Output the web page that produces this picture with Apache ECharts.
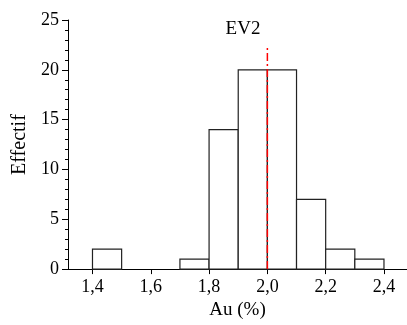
<!DOCTYPE html>
<html><head><meta charset="utf-8">
<script src="https://cdn.jsdelivr.net/npm/echarts@6/dist/echarts.min.js"></script>
<style>html,body{margin:0;padding:0;background:#fff}#c{width:407px;height:325px}</style>
</head><body><div id="c"></div>
<script>
var binStarts = [1.4, 1.5, 1.6, 1.7, 1.8, 1.9, 2.0, 2.1, 2.2, 2.3];
var binWidth = 0.1;
var counts = [2, 0, 0, 1, 14, 20, 20, 7, 2, 1];
var xTicks = [1.4, 1.6, 1.8, 2.0, 2.2, 2.4];
var yTicks = [0, 5, 10, 15, 20, 25];
var refX = 2.0;
var refTop = 22.3;

var font = '"Liberation Serif", "Times New Roman", Times, serif';
var bars = [];
for (var i = 0; i < binStarts.length; i++) {
  if (counts[i] > 0) bars.push([binStarts[i], binStarts[i] + binWidth, counts[i]]);
}
var chart = echarts.init(document.getElementById('c'));
chart.setOption({
  animation: false,
  title: { text: 'EV2', left: 238, textAlign: 'center', top: 15,
    textStyle: { fontFamily: font, fontSize: 19, fontWeight: 'normal', color: '#000' } },
  grid: { left: 68, right: 0, top: 20, bottom: 54 },
  xAxis: {
    type: 'value', min: 1.316, max: 2.479,
    name: 'Au (%)', nameLocation: 'middle', nameGap: 31,
    nameTextStyle: { fontFamily: font, fontSize: 19, color: '#000' },
    axisLine: { onZero: false, lineStyle: { color: '#000', width: 1 } },
    axisTick: { show: true, length: 5, customValues: xTicks, lineStyle: { color: '#000' } },
    axisLabel: { customValues: xTicks, fontFamily: font, fontSize: 18, color: '#000', margin: 9,
      formatter: function (v) { return v.toFixed(1).replace('.', ','); } },
    splitLine: { show: false }
  },
  yAxis: {
    type: 'value', min: 0, max: 25, interval: 5,
    name: 'Effectif', nameLocation: 'middle', nameGap: 38,
    nameTextStyle: { fontFamily: font, fontSize: 20, color: '#000' },
    axisLine: { show: true, lineStyle: { color: '#000', width: 1 } },
    axisTick: { show: true, length: 6, lineStyle: { color: '#000' } },
    minorTick: { show: true, splitNumber: 5, length: 3, lineStyle: { color: '#000' } },
    axisLabel: { fontFamily: font, fontSize: 18, color: '#000', margin: 9 },
    splitLine: { show: false }
  },
  series: [{
    type: 'custom',
    data: bars,
    renderItem: function (params, api) {
      var p0 = api.coord([api.value(0), api.value(2)]);
      var p1 = api.coord([api.value(1), 0]);
      return { type: 'rect', shape: { x: p0[0], y: p0[1], width: p1[0] - p0[0], height: p1[1] - p0[1] },
        style: { fill: '#fff', stroke: '#222', lineWidth: 1.2 } };
    },
    encode: { x: [0, 1], y: 2 },
    z: 2
  }, {
    type: 'line',
    data: [[refX, 0], [refX, refTop]],
    symbol: 'none',
    lineStyle: { color: '#ff0000', width: 1.5, type: [8, 3, 2, 3] },
    z: 5
  }]
});
</script></body></html>
